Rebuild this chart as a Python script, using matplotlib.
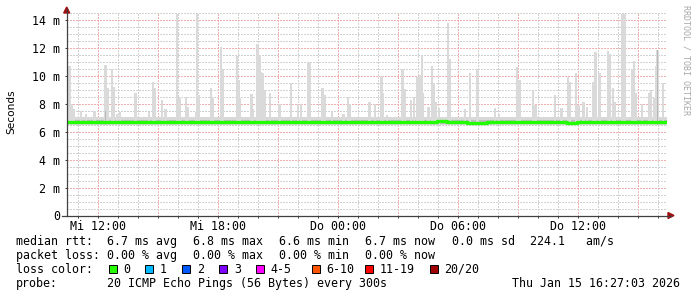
import matplotlib
matplotlib.use("Agg")
import matplotlib.pyplot as plt
from matplotlib.patches import Polygon, Rectangle
from matplotlib.lines import Line2D
import numpy as np

# ---------------- data (hours since Wed 00:00, values in ms) ----------------
spike_hours = [10.59, 10.69, 10.815, 11.165, 11.415, 11.84, 12.39, 12.49, 12.715, 12.79,
               12.965, 13.115, 13.89, 14.565, 14.765, 14.865, 15.215, 15.39, 15.965, 16.09,
               16.415, 16.49, 16.915, 16.965, 17.065, 17.665, 17.765, 18.165, 18.24, 18.965,
               19.04, 19.115, 19.69, 19.765, 19.99, 20.09, 20.165, 20.265, 20.365, 20.615,
               21.09, 21.665, 22.015, 22.165, 22.515, 22.615, 23.24, 23.34, 23.715, 24.29,
               24.515, 24.615, 25.59, 25.865, 26.19, 26.265, 26.465, 27.24, 27.34, 27.665,
               27.815, 27.99, 28.115, 28.215, 28.265, 28.54, 28.715, 28.79, 28.89, 29.065,
               29.515, 29.615, 30.365, 30.615, 30.99, 31.865, 32.065, 32.965, 33.09, 33.765,
               33.89, 34.865, 35.19, 35.515, 35.615, 35.915, 36.04, 36.29, 36.465, 36.79,
               36.89, 37.09, 37.515, 37.59, 37.765, 37.84, 38.24, 38.365, 38.715, 38.815,
               38.915, 39.215, 39.565, 39.665, 39.815, 39.915, 39.99, 40.265]
spike_ms = [10.7, 8.0, 7.6, 7.5, 7.3, 7.5, 10.8, 9.1, 10.5, 9.2,
            7.3, 7.4, 8.8, 7.4, 9.6, 9.1, 8.3, 7.6, 14.45, 8.4,
            8.5, 7.8, 7.4, 14.45, 8.6, 9.1, 8.4, 12.1, 10.5, 11.4,
            9.7, 8.4, 8.7, 7.6, 12.3, 11.5, 10.3, 10.2, 9.0, 8.8,
            8.0, 9.5, 8.0, 8.0, 11.0, 11.0, 9.1, 8.6, 7.4, 7.3,
            8.5, 8.0, 8.1, 8.0, 10.0, 8.8, 7.2, 10.5, 9.05, 8.3,
            8.5, 9.9, 10.05, 11.4, 8.8, 7.8, 10.7, 9.5, 8.15, 7.7,
            13.8, 11.2, 7.65, 10.2, 10.5, 7.7, 7.3, 10.65, 9.7, 8.9,
            7.9, 8.6, 7.7, 9.95, 9.6, 10.2, 7.9, 8.1, 7.8, 9.6,
            11.7, 10.2, 11.8, 11.6, 9.1, 8.15, 14.45, 14.45, 10.5, 11.05,
            8.8, 8.0, 8.8, 9.0, 8.4, 10.7, 11.85, 9.5]

dark_hours = [12.39, 15.965, 29.515, 35.915, 39.99]
dark_ms = [7.5, 7.6, 7.5, 10.2, 11.85]

median_hours = [10.45 + 0.5 * k for k in range(61)]
median_ms = [6.72, 6.72, 6.71, 6.72, 6.70, 6.71, 6.72, 6.71, 6.70,
             6.70, 6.71, 6.72, 6.70, 6.69, 6.70, 6.71, 6.71, 6.70, 6.72,
             6.71, 6.70, 6.69, 6.70, 6.72, 6.71, 6.72, 6.73, 6.71, 6.70,
             6.71, 6.72, 6.71, 6.70, 6.72, 6.73, 6.73, 6.72, 6.74, 6.73,
             6.68, 6.65, 6.66, 6.68, 6.70, 6.71, 6.70, 6.69, 6.70, 6.71,
             6.68, 6.66, 6.67, 6.68, 6.70, 6.71, 6.70, 6.69, 6.68, 6.70,
             6.69, 6.70]

smoke_low_ms, smoke_high_ms = 6.50, 7.05
core_low_ms, core_high_ms = 6.56, 6.86

y_ticks = [0, 2, 4, 6, 8, 10, 12, 14]
y_labels = ["0", "2 m", "4 m", "6 m", "8 m", "10 m", "12 m", "14 m"]
x_ticks = [12, 18, 24, 30, 36]
x_labels = ["Mi 12:00", "Mi 18:00", "Do 00:00", "Do 06:00", "Do 12:00"]

loss_labels = ["0", "1", "2", "3", "4-5", "6-10", "11-19", "20/20"]
loss_colors = ["#26ff00", "#00b8ff", "#0059ff", "#7e00ff", "#ff00ff", "#ff5500", "#ff0000", "#a10000"]

# ---------------- figure ----------------
W, H = 697, 297
fig = plt.figure(figsize=(W / 100, H / 100), dpi=100)
fig.patch.set_facecolor("white")

x0, x1, ybot, ytop = 66.7, 667.2, 215.5, 12.0
ax = fig.add_axes([x0 / W, 1 - ybot / H, (x1 - x0) / W, (ybot - ytop) / H])
ax.set_xlim(10.45, 40.475)
ax.set_ylim(0, 14.58)
for s in ax.spines.values():
    s.set_visible(False)

mono = "DejaVu Sans Mono"
fs = 8.4

# grid (under the smoke), crisp 1px dotted lines
dot = (0, (1, 1))
for h in range(11, 41):
    col = "#f0b0b0" if h % 3 == 0 else "#d2d2d2"
    ax.axvline(h, color=col, lw=1.0, ls=dot, zorder=0.5, antialiased=False)
for k in range(1, 30):
    v = k * 0.5
    if v > 14.58:
        break
    col = "#f0b0b0" if k % 4 == 0 else "#d2d2d2"
    ax.axhline(v, color=col, lw=1.0, ls=dot, zorder=0.5, antialiased=False)

# smoke
xs = np.array([10.45, 40.475])
ax.fill_between(xs, smoke_low_ms, smoke_high_ms, color="#d8d8d8", lw=0, zorder=1)
ax.fill_between(xs, core_low_ms, core_high_ms, color="#a8a8a8", lw=0, zorder=1.1, alpha=0.55)
ax.bar(spike_hours, np.array(spike_ms) - smoke_low_ms, bottom=smoke_low_ms, width=0.11,
       color="#dadada", lw=0, zorder=1.2)
ax.bar(dark_hours, np.array(dark_ms) - smoke_low_ms, bottom=smoke_low_ms, width=0.045,
       color="#b8b8b8", lw=0, zorder=1.3)

# median line
ax.step(median_hours, median_ms, where="post", color="#22ff00", lw=2.4, zorder=3)

# ticks
ax.set_yticks(y_ticks)
ax.set_yticklabels(y_labels, fontfamily=mono, fontsize=fs)
ax.set_xticks(x_ticks)
ax.set_xticklabels(x_labels, fontfamily=mono, fontsize=fs)
ax.set_xticks(range(11, 41), minor=True)
ax.tick_params(axis="y", length=1.5, width=0.72, pad=3.3, color="#404040")
ax.tick_params(axis="x", which="both", length=1.5, width=0.72, pad=1.6, color="#404040")

# axis lines and arrows (pixel coordinates -> figure fraction)
def P(x, y):
    return (x / W, 1 - y / H)

fig.add_artist(Line2D([P(x0, ybot)[0], P(x0, 9)[0]], [P(x0, ybot)[1], P(x0, 9)[1]],
                      color="#404040", lw=0.9, transform=fig.transFigure))
fig.add_artist(Line2D([P(62, ybot)[0], P(671, ybot)[0]], [P(62, ybot)[1], P(671, ybot)[1]],
                      color="#404040", lw=0.9, transform=fig.transFigure))
fig.add_artist(Polygon([P(x0, 7), P(x0 - 3, 13), P(x0 + 3, 13)], closed=True,
                       color="#a01010", transform=fig.transFigure))
fig.add_artist(Polygon([P(674, ybot), P(668, ybot - 3), P(668, ybot + 3)], closed=True,
                       color="#a01010", transform=fig.transFigure))

# y label and watermark
fig.text(11 / W, 1 - 112 / H, "Seconds", rotation=90, ha="center", va="center",
         fontsize=7.6, family="DejaVu Sans")
fig.text(686 / W, 1 - 60 / H, "RRDTOOL / TOBI OETIKER", rotation=-90, ha="center", va="center",
         fontsize=6.0, family=mono, color="#a8a8a8")

# legend text
def T(x, y, s, ha="left"):
    fig.text(x / W, 1 - y / H, s, ha=ha, va="center", fontsize=fs, family=mono, color="black")

T(16, 241.5, "median rtt:")
for xp, s in zip([106.7, 193.3, 279.3, 365.3, 451.5],
                 ["6.7 ms avg", "6.8 ms max", "6.6 ms min", "6.7 ms now", "0.0 ms sd"]):
    T(xp, 241.5, s)
T(530, 241.5, "224.1   am/s")

T(16, 255.3, "packet loss:")
for xp, s in zip([106.7, 193.3, 279.3, 365.3],
                 ["0.00 % avg", "0.00 % max", "0.00 % min", "0.00 % now"]):
    T(xp, 255.3, s)

T(16, 269.3, "loss color:")
sq_x = [108.7, 145.3, 182.3, 219.3, 256.0, 311.6, 365.0, 430.0]
for xp, lab, col in zip(sq_x, loss_labels, loss_colors):
    (fx, fy) = P(xp, 273.3)
    fig.add_artist(Rectangle((fx, fy), 8 / W, 8 / H, facecolor=col, edgecolor="black",
                             lw=0.7, transform=fig.transFigure))
    T(xp + 14.5, 269.3, lab)

T(16, 283.3, "probe:")
T(106.7, 283.3, "20 ICMP Echo Pings (56 Bytes) every 300s")
T(680.5, 283.3, "Thu Jan 15 16:27:03 2026", ha="right")

fig.savefig("out.png", dpi=100, facecolor="white")
